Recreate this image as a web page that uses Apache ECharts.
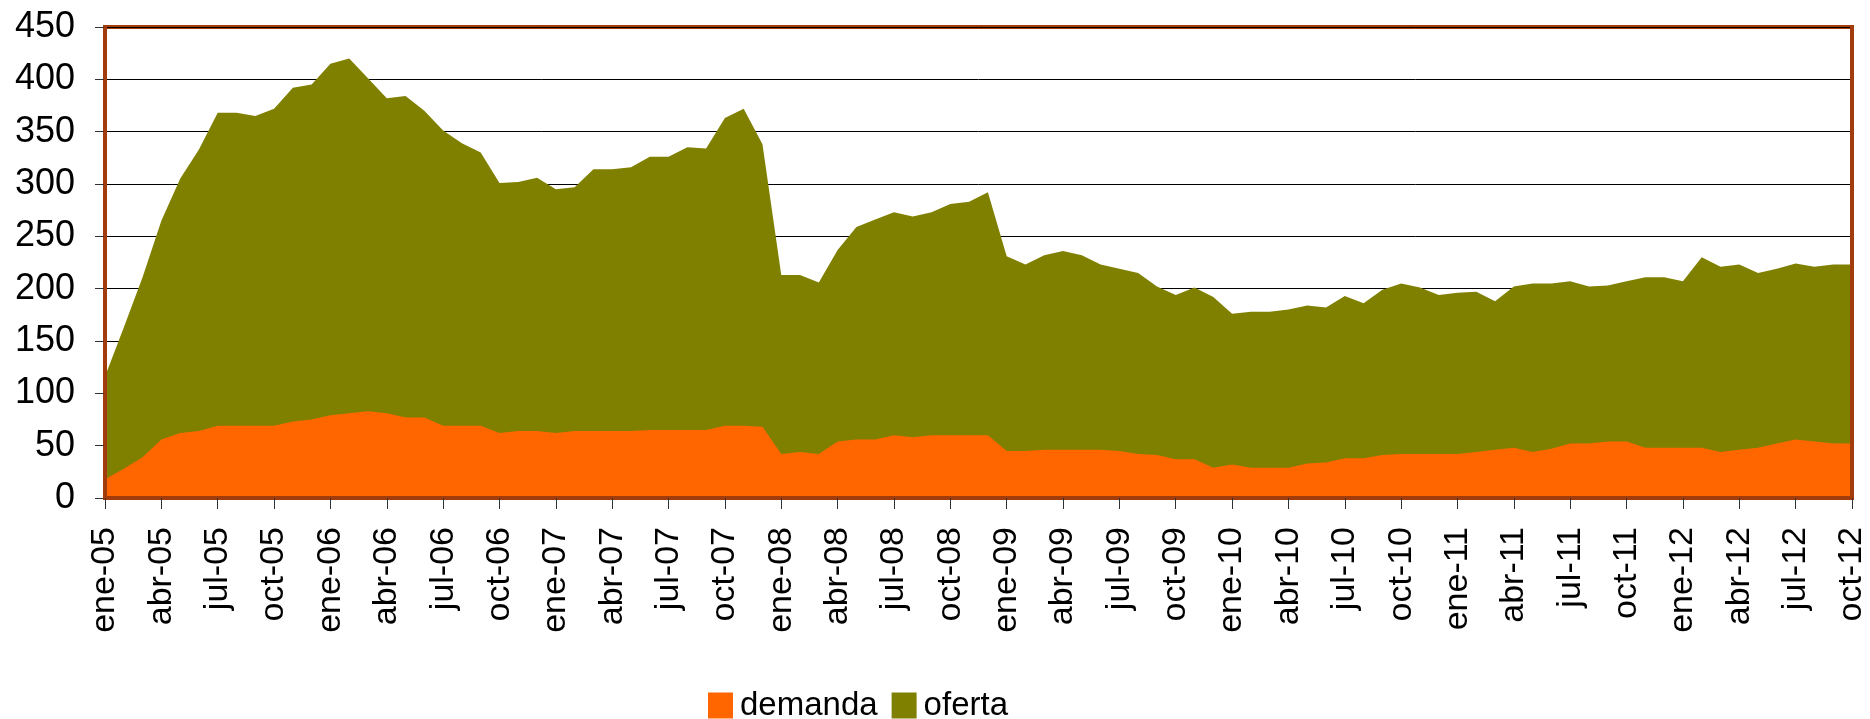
<!DOCTYPE html>
<html>
<head>
<meta charset="utf-8">
<title>demanda / oferta</title>
<script src="https://cdn.jsdelivr.net/npm/echarts@6/dist/echarts.min.js"></script>
<style>
html, body {
	margin: 0;
	padding: 0;
	background: #fff;
}

#chart {
	width: 1870px;
	height: 719px;
}
</style>
</head>
<body>
	<div id="chart"></div>
	<script>
		// meses ene-05 .. oct-12
		var monthNames = ['ene', 'feb', 'mar', 'abr', 'may', 'jun', 'jul', 'ago', 'sep', 'oct', 'nov', 'dic'];
		var years = ['05', '06', '07', '08', '09', '10', '11', '12'];
		var categories = [];
		years.forEach(function(y) {
			monthNames.forEach(function(m) {
				categories.push(m + '-' + y);
			});
		});
		categories = categories.slice(0, 94);

		// valores
		var demanda = [18, 28, 39, 56, 62, 64, 69, 69, 69, 69, 73, 75, 79, 81, 83, 81, 77, 77, 69, 69,
			69, 62, 64, 64, 62, 64, 64, 64, 64, 65, 65, 65, 65, 69, 69, 68, 42, 44, 42, 54,
			56, 56, 60, 58, 60, 60, 60, 60, 45, 45, 46, 46, 46, 46, 45, 42, 41, 37, 37, 29,
			32, 29, 29, 29, 33, 34, 38, 38, 41, 42, 42, 42, 42, 44, 46, 48, 44, 47, 52, 52,
			54, 54, 48, 48, 48, 48, 44, 46, 48, 52, 56, 54, 52, 52];
		var oferta = [116, 163, 211, 265, 305, 333, 368, 368, 365, 372, 392, 395, 415, 420, 401, 382, 384, 370, 351, 339,
			330, 301, 302, 306, 295, 297, 314, 314, 316, 326, 326, 335, 334, 363, 372, 338, 213, 213, 206, 237,
			259, 266, 273, 269, 273, 281, 283, 292, 231, 223, 232, 236, 232, 223, 219, 215, 202, 194, 201, 192,
			176, 178, 178, 180, 184, 182, 193, 186, 199, 205, 201, 194, 196, 197, 188, 202, 205, 205, 207, 202,
			203, 207, 211, 211, 207, 230, 221, 223, 215, 219, 224, 221, 223, 223];

		var frameColor = '#A33C0C';
		var font = 'Liberation Sans, Arial, sans-serif';

		var chart = echarts.init(document.getElementById('chart'));
		var option = {
			animation: false,
			grid: {
				left: 105,
				right: 18,
				top: 27,
				bottom: 221,
				show: true,
				borderColor: frameColor,
				borderWidth: 4,
				containLabel: false
			},
			legend: {
				data: ['demanda', 'oferta'],
				left: 708,
				top: 689,
				padding: 0,
				icon: 'rect',
				itemWidth: 25,
				itemHeight: 26,
				itemGap: 14,
				textStyle: { fontSize: 33, lineHeight: 30, fontFamily: font, color: '#000', padding: [0, 0, 0, 2] }
			},
			xAxis: [{
				type: 'category',
				data: categories,
				boundaryGap: false,
				position: 'bottom',
				z: 10,
				axisLine: { lineStyle: { color: '#000', width: 2 } },
				axisTick: { interval: 2, length: 11, lineStyle: { color: '#333' } },
				axisLabel: {
					interval: 2,
					rotate: 90,
					margin: 29,
					fontSize: 34,
					fontFamily: font,
					color: '#000'
				},
				splitLine: { show: false }
			}, {
				type: 'category',
				data: categories,
				boundaryGap: false,
				position: 'top',
				z: 10,
				axisLine: { lineStyle: { color: frameColor, width: 4 } },
				axisTick: { show: false },
				axisLabel: { show: false }
			}],
			yAxis: [{
				type: 'value',
				min: 0,
				max: 450,
				interval: 50,
				position: 'left',
				axisLine: { show: false },
				axisTick: { show: true, length: 10, lineStyle: { color: '#333' } },
				axisLabel: { margin: 30, fontSize: 36, fontFamily: font, color: '#000' },
				splitLine: { lineStyle: { color: '#000', width: 1 } }
			}, {
				type: 'value',
				min: 0,
				max: 450,
				position: 'left',
				z: 10,
				axisLine: { show: true, lineStyle: { color: frameColor, width: 3 } },
				axisTick: { show: false },
				axisLabel: { show: false },
				splitLine: { show: false }
			}, {
				type: 'value',
				min: 0,
				max: 450,
				position: 'right',
				z: 10,
				axisLine: { show: true, lineStyle: { color: frameColor, width: 4 } },
				axisTick: { show: false },
				axisLabel: { show: false },
				splitLine: { show: false }
			}],
			series: [{
				name: 'oferta',
				type: 'line',
				data: oferta,
				showSymbol: false,
				lineStyle: { width: 0 },
				itemStyle: { color: '#808000' },
				areaStyle: { color: '#808000', opacity: 1 }
			}, {
				name: 'demanda',
				type: 'line',
				data: demanda,
				showSymbol: false,
				lineStyle: { width: 0 },
				itemStyle: { color: '#FF6600' },
				areaStyle: { color: '#FF6600', opacity: 1 }
			}]
		};
		chart.setOption(option);
	</script>
</body>
</html>
